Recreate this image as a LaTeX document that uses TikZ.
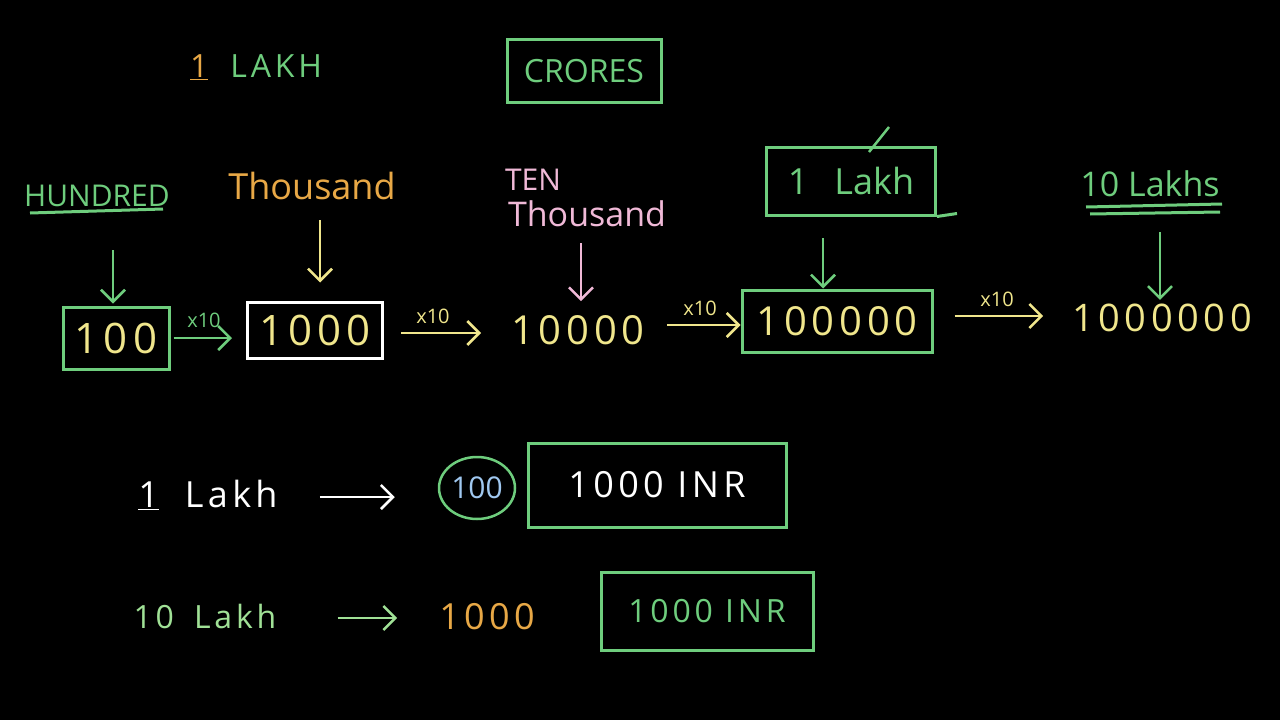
\documentclass[tikz,border=0pt]{standalone}
\usepackage{fontspec}
\setmainfont{Open Sans}
\newfontfamily\wide[LetterSpace=12]{Open Sans}
\usetikzlibrary{arrows.meta,shapes.geometric}
\definecolor{hgreen}{RGB}{110,205,125}
\definecolor{lgreen}{RGB}{160,225,150}
\definecolor{hyellow}{RGB}{240,230,140}
\definecolor{horange}{RGB}{232,168,70}
\definecolor{hpink}{RGB}{240,185,215}
\definecolor{hblue}{RGB}{160,200,240}
\tikzset{
  txt/.style={inner sep=2pt, font=\fontsize{#1}{#1}\selectfont},
  txt/.default=36,
  harrow/.style={line width=2.5pt, -{Straight Barb[length=12pt,width=24pt,line width=2.5pt]}},
  lbl/.style={font=\fontsize{20}{20}\selectfont, inner sep=1pt}
}
\begin{document}
\begin{tikzpicture}[x=1pt,y=-1pt]
\useasboundingbox (0,0) rectangle (1280,720);
\fill[black] (0,0) rectangle (1280,720);

% top titles
\node[txt=32, text=hgreen] (lakhtitle) at (256,67) {\textcolor{horange}{\underline{1}}\hspace{22pt}{\wide LAKH}};
\node[txt=32, text=hgreen, draw=hgreen, line width=3pt, minimum width=154pt, minimum height=63pt] (crores) at (584,71) {CRORES};

% labels
\node[txt=30, text=hgreen] (hundred) at (97,196) {HUNDRED};
\draw[hgreen, line width=3pt] (30,213) -- (163,209);
\node[txt=36, text=horange] (thousand) at (312,186) {Thousand};
\node[txt=30, text=hpink] (ten) at (533,180) {TEN};
\node[txt=34, text=hpink] (tenthousand) at (587,214) {Thousand};
\node[txt=36, text=hgreen, draw=hgreen, line width=3pt, minimum width=169pt, minimum height=68pt] (onelakh) at (851,181) {1\hspace{26pt}Lakh};
\draw[hgreen, line width=3pt] (onelakh.south east) -- ++(20,-3);
\draw[hgreen, line width=2.5pt] (869,152) -- (889,127);
\node[txt=34, text=hgreen] (tenlakhs) at (1150,184) {10 Lakhs};
\draw[hgreen, line width=3pt] (1086,207) -- (1222,204);
\draw[hgreen, line width=3pt] (1090,214) -- (1220,212);

% main row
\node[txt=42, text=hyellow, draw=hgreen, line width=3pt, minimum width=106pt, minimum height=62pt] (n100) at (116,338) {\wide 100};
\node[txt=42, text=hyellow, draw=white, line width=3pt, minimum width=135pt, minimum height=56pt] (n1000) at (315,330) {\wide 1000};
\node[txt=40, text=hyellow] (n10000) at (578,330) {\wide 10000};
\node[txt=40, text=hyellow, draw=hgreen, line width=3pt, minimum width=190pt, minimum height=62pt] (n100000) at (837,321) {\wide 100000};
\node[txt=38, text=hyellow] (n1000000) at (1162,318) {\wide 1000000};

% free ends of the down arrows
\coordinate (hA) at (113,250);
\coordinate (tA) at (320,220);
\coordinate (pA) at (581,243);
\coordinate (gA) at (823,238);
\coordinate (gB) at (1160,232);

% down arrows
\draw[harrow, hgreen, shorten >=2pt] (hA) -- (n100.north -| hA);
\draw[harrow, hyellow, shorten >=18pt] (tA) -- (n1000.north -| tA);
\draw[harrow, hpink, shorten >=12pt] (pA) -- (n10000.north -| pA);
\draw[harrow, hgreen] (gA) -- (n100000.north -| gA);
\draw[harrow, hgreen, shorten >=2pt] (gB) -- (n1000000.north -| gB);

% x10 arrows
\draw[harrow, hgreen, shorten <=3pt, shorten >=14pt] (n100.east) -- (n100.east -| n1000.west);
\node[lbl, text=hgreen] (x1) at (204,320) {x10};
\draw[harrow, hyellow, shorten <=17pt, shorten >=28pt] ([yshift=-3pt]n1000.east) -- ([yshift=-3pt]n1000.east -| n10000.west);
\node[lbl, text=hyellow] (x2) at (433,316) {x10};
\draw[harrow, hyellow, shorten <=20pt] ([yshift=5pt]n10000.east) -- ([yshift=5pt]n10000.east -| n100000.west);
\node[lbl, text=hyellow] (x3) at (700,308) {x10};
\draw[harrow, hyellow, shorten <=21pt, shorten >=27pt] ([yshift=5pt]n100000.east) -- ([yshift=5pt]n100000.east -| n1000000.west);
\node[lbl, text=hyellow] (x4) at (997,299) {x10};

% bottom row 1
\node[txt=36, text=white] (b1lakh) at (208,495) {\underline{1}\hspace{26pt}{\wide Lakh}};
\node[txt=30, text=hblue, draw=hgreen, line width=2.5pt, ellipse, inner sep=0pt, minimum width=76pt, minimum height=62pt] (b100) at (477,488) {100};
\node[txt=36, text=white, draw=hgreen, line width=3pt, minimum width=258pt, minimum height=84pt] (b1000) at (657,485) {\wide 1000 INR};
\draw[harrow, white, shorten <=40pt, shorten >=43pt] ([yshift=-2pt]b1lakh.east) -- ([yshift=-2pt]b1lakh.east -| b100.west);

% bottom row 2
\node[txt=32, text=lgreen] (b10lakh) at (205,616) {\wide 10\hspace{20pt}Lakh};
\node[txt=36, text=horange] (b1000o) at (487,617) {\wide 1000};
\node[txt=32, text=hgreen, draw=hgreen, line width=3pt, minimum width=212pt, minimum height=78pt] (b1000g) at (707,611) {\wide 1000 INR};
\draw[harrow, lgreen, shorten <=59pt, shorten >=40pt] ([yshift=-2pt]b10lakh.east) -- ([yshift=-2pt]b10lakh.east -| b1000o.west);
\end{tikzpicture}
\end{document}
